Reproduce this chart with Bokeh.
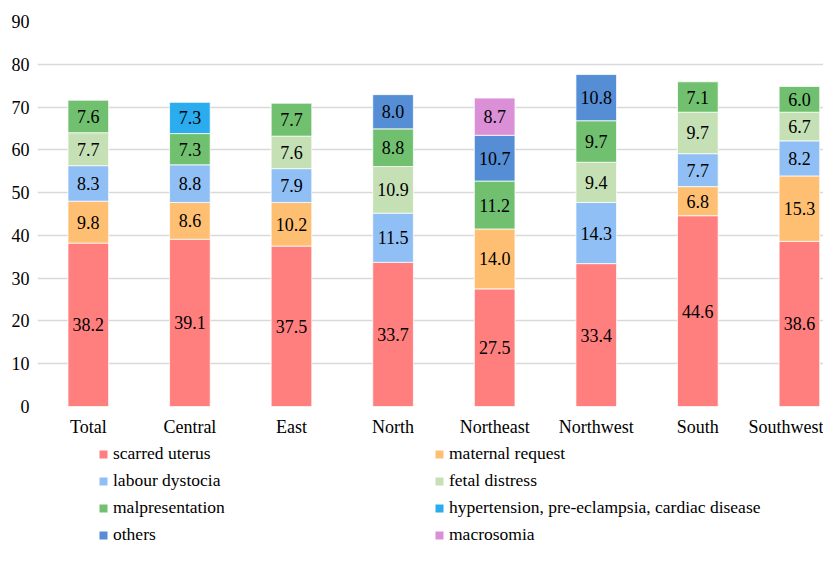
import numpy as np
from bokeh.plotting import figure
from bokeh.layouts import column
from bokeh.models import ColumnDataSource, Range1d, FixedTicker, Legend, LegendItem
from bokeh.embed import file_html
from bokeh.resources import INLINE
from bokeh.core.properties import value

categories = ["Total", "Central", "East", "North", "Northeast", "Northwest", "South", "Southwest"]

series_names = [
    "scarred uterus",
    "maternal request",
    "labour dystocia",
    "fetal distress",
    "malpresentation",
    "hypertension, pre-eclampsia, cardiac disease",
    "others",
    "macrosomia",
]

scarred_uterus = [38.2, 39.1, 37.5, 33.7, 27.5, 33.4, 44.6, 38.6]
maternal_request = [9.8, 8.6, 10.2, 0, 14.0, 0, 6.8, 15.3]
labour_dystocia = [8.3, 8.8, 7.9, 11.5, 0, 14.3, 7.7, 8.2]
fetal_distress = [7.7, 0, 7.6, 10.9, 0, 9.4, 9.7, 6.7]
malpresentation = [7.6, 7.3, 7.7, 8.8, 11.2, 9.7, 7.1, 6.0]
hypertension = [0, 7.3, 0, 0, 0, 0, 0, 0]
others = [0, 0, 0, 8.0, 10.7, 10.8, 0, 0]
macrosomia = [0, 0, 0, 0, 8.7, 0, 0, 0]

colors = ["#FF7F7F", "#FFBF72", "#90BFF5", "#C5E0B4", "#70C06F", "#2AACEE", "#558ED5", "#DA8FD7"]

y_ticks = [0, 10, 20, 30, 40, 50, 60, 70, 80, 90]

FONT = "Liberation Serif"

series_values = [scarred_uterus, maternal_request, labour_dystocia, fetal_distress,
                 malpresentation, hypertension, others, macrosomia]
data = np.array(series_values, dtype=float)
tops = np.cumsum(data, axis=0)
bottoms = tops - data
xs = np.arange(len(categories))

W = 823
H_CHART = 441
H_LEG = 104

p = figure(width=W, height=H_CHART, output_backend="svg", toolbar_location=None,
           x_range=Range1d(-0.5, 7.237), y_range=Range1d(0, 90),
           min_border_left=37, min_border_right=0, min_border_top=21, min_border_bottom=35)
p.outline_line_color = None
p.background_fill_color = "white"

lab_x, lab_y, lab_t = [], [], []
for i in range(len(series_names)):
    mask = data[i] > 0
    src = ColumnDataSource(dict(x=xs[mask], bottom=bottoms[i][mask], top=tops[i][mask]))
    p.vbar(x="x", bottom="bottom", top="top", width=0.4, source=src,
           fill_color=colors[i], line_color="white", line_width=0.75)
    for j in np.where(mask)[0]:
        lab_x.append(xs[j])
        lab_y.append((bottoms[i][j] + tops[i][j]) / 2)
        lab_t.append("%.1f" % data[i][j])

lsrc = ColumnDataSource(dict(x=lab_x, y=lab_y, t=lab_t))
p.text(x="x", y="y", text="t", source=lsrc, text_align="center", text_baseline="middle",
       text_font=value(FONT), text_font_size="18px", text_color="black")

p.xaxis.ticker = FixedTicker(ticks=[int(v) for v in xs])
p.xaxis.major_label_overrides = {int(i): c for i, c in zip(xs, categories)}
p.xaxis.major_label_text_font = FONT
p.xaxis.major_label_text_font_size = "18px"
p.xaxis.major_label_text_color = "black"
p.xaxis.axis_line_color = None
p.xaxis.major_tick_line_color = None
p.xaxis.minor_tick_line_color = None
p.xaxis.major_tick_out = 0
p.xaxis.major_label_standoff = 10

p.yaxis.ticker = FixedTicker(ticks=y_ticks)
p.yaxis.major_label_text_font = FONT
p.yaxis.major_label_text_font_size = "18px"
p.yaxis.major_label_text_color = "black"
p.yaxis.axis_line_color = None
p.yaxis.major_tick_line_color = None
p.yaxis.minor_tick_line_color = None
p.yaxis.major_tick_out = 0
p.yaxis.major_label_standoff = 8

p.xgrid.visible = False
p.ygrid.ticker = FixedTicker(ticks=y_ticks)
p.ygrid.grid_line_color = "#d9d9d9"
p.ygrid.grid_line_width = 1.5

# legend panel (its own small figure, stacked under the chart)
q = figure(width=W, height=H_LEG, output_backend="svg", toolbar_location=None,
           x_range=Range1d(0, 1), y_range=Range1d(0, 1), min_border=0,
           x_axis_location=None, y_axis_location=None)
q.outline_line_color = None
q.grid.visible = False

items_left, items_right = [], []
for i, (name, c) in enumerate(zip(series_names, colors)):
    # off-screen proxy renderer used only for the legend swatch
    r = q.scatter(x=[-5], y=[-5], marker="square", size=8, fill_color=c, line_color=None)
    item = LegendItem(label=name, renderers=[r])
    (items_left if i % 2 == 0 else items_right).append(item)

for items, xloc in ((items_left, 56), (items_right, 392)):
    lg = Legend(items=items, location=(xloc, 0), orientation="vertical",
                glyph_width=20, glyph_height=20, label_height=20, label_standoff=0,
                spacing=6, padding=0, margin=0, border_line_color=None,
                background_fill_alpha=0, label_text_font=FONT,
                label_text_font_size="17.5px", label_text_color="black")
    q.add_layout(lg, "center")

layout = column(p, q, spacing=0)
open("out.html", "w").write(file_html(layout, INLINE))
